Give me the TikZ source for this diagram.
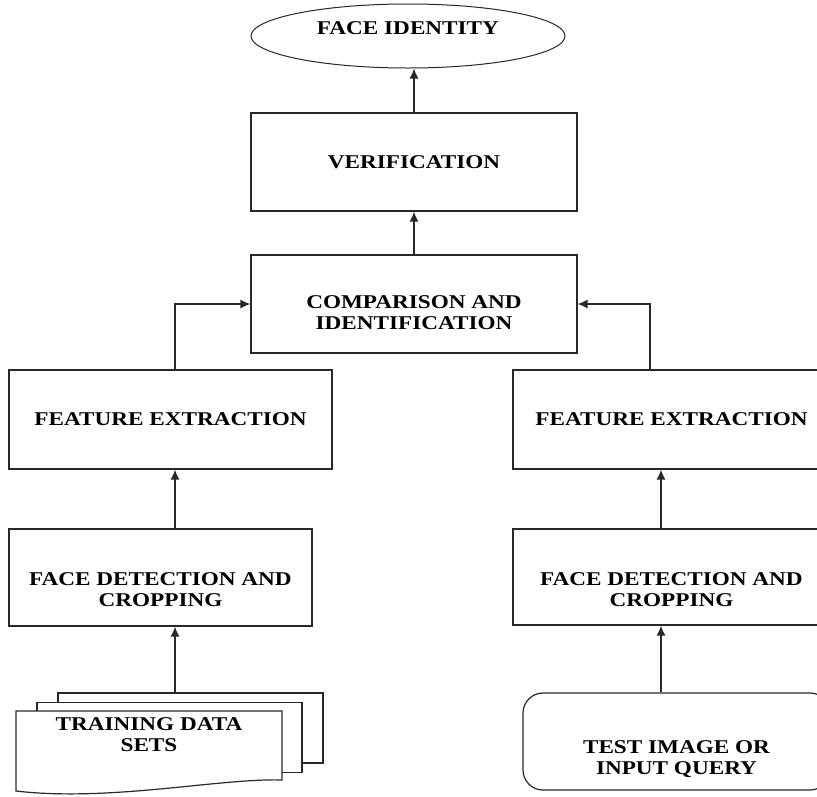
\documentclass[tikz,border=0pt]{standalone}
\usepackage{fontspec}
\setmainfont[FakeStretch=1.19]{Liberation Serif}
\usetikzlibrary{arrows.meta,shapes,positioning}
\definecolor{fdline}{RGB}{40,40,40}
\tikzstyle{arrow} = [line width=1.3pt,-{Latex[length=10pt,width=9pt]},color=fdline]
\tikzstyle{stage} = [rectangle, draw=fdline, line width=1.2pt, align=center, inner sep=0pt, font=\bfseries\fontsize{19.5}{21}\selectfont]
\tikzstyle{outcome} = [ellipse, draw=fdline, line width=1pt, inner sep=0pt, font=\bfseries\fontsize{19.5}{21}\selectfont]
\tikzstyle{sheet} = [rectangle, draw=fdline, fill=white, line width=1.2pt, minimum width=265pt, minimum height=70pt]
\begin{document}
\begin{tikzpicture}[x=1pt, y=-1pt]
\useasboundingbox (0,0) rectangle (817,796);
% Result and matching
\node (ident) [outcome, minimum width=314pt, minimum height=64pt, text height=13pt, text depth=17pt] at (408,36) {FACE IDENTITY};
\node (verif) [stage, minimum width=326pt, minimum height=98pt] at (414,162) {VERIFICATION};
\node (comp) [stage, minimum width=326pt, minimum height=98pt, text height=50pt, text depth=0pt] at (414,304) {COMPARISON AND\\IDENTIFICATION};

% Training branch
\node (fel) [stage, minimum width=323pt, minimum height=99pt] at (170.5,419.5) {FEATURE EXTRACTION};
\node (fdl) [stage, minimum width=303pt, minimum height=97pt, text height=58pt, text depth=0pt] at (160.5,577.5) {FACE DETECTION AND\\CROPPING};
\node (trainback) [sheet] at (190.5,728) {};
\node (trainmid) [sheet] at (169.5,737.5) {};
\draw[fill=white, line width=1.2pt, draw=fdline] (16,711) -- (282,711) -- (282,780) .. controls (220,778) and (110,802) .. (16,791) -- cycle;
\node (train) [align=center, font=\bfseries\fontsize{19.5}{21}\selectfont] at (149,735) {TRAINING DATA\\SETS};

% Test branch
\node (fer) [stage, minimum width=317pt, minimum height=99pt] at (671.5,419.5) {FEATURE EXTRACTION};
\node (fdr) [stage, minimum width=317pt, minimum height=96pt, text height=58pt, text depth=0pt] at (671.5,577) {FACE DETECTION AND\\CROPPING};
\node (test) [stage, rounded corners=20pt, minimum width=307pt, minimum height=97pt, text height=66pt, text depth=0pt] at (676.5,741.5) {TEST IMAGE OR\\INPUT QUERY};

\coordinate (colL) at (175,0);
\coordinate (colR) at (661,0);
\coordinate (elbR) at (650,0);

\draw[arrow] (colL |- trainback.north) -- (colL |- fdl.south);
\draw[arrow] (colL |- fdl.north) -- (colL |- fel.south);
\draw[arrow] (colL |- fel.north) |- (comp.west);
\draw[arrow] (colR |- test.north) -- (colR |- fdr.south);
\draw[arrow] (colR |- fdr.north) -- (colR |- fer.south);
\draw[arrow] (elbR |- fer.north) |- (comp.east);
\draw[arrow] (comp.north) -- (verif.south);
\draw[arrow] (verif.north) -- (verif.north |- ident.south);
\end{tikzpicture}
\end{document}
